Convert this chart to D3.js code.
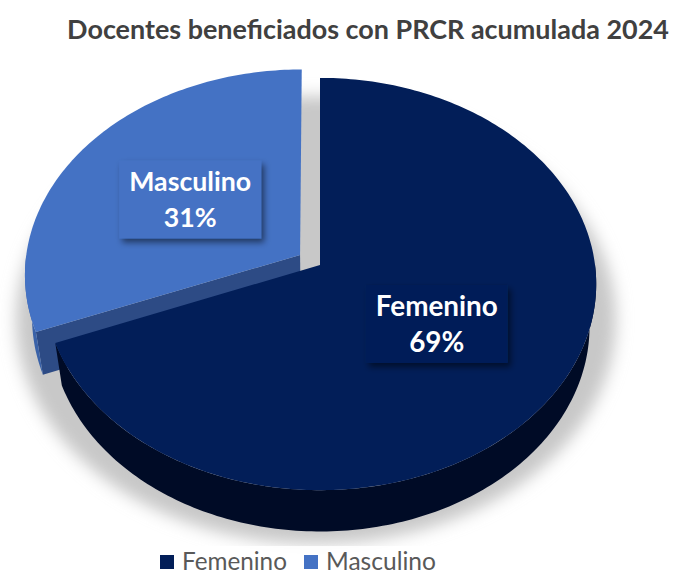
<!DOCTYPE html>
<html lang="es">
<head>
<meta charset="UTF-8">
<title>Docentes beneficiados con PRCR acumulada 2024</title>
<script src="https://d3js.org/d3.v7.min.js"></script>
<style>
  body { margin: 0; background: #fff; }
  text { font-family: Lato, "Open Sans", sans-serif; }
</style>
</head>
<body>
<svg id="chart" width="673" height="574"></svg>
<script>
  // data
  var title = "Docentes beneficiados con PRCR acumulada 2024";
  var categories = ["Femenino", "Masculino"];
  var values = [69, 31];
  var percentLabels = ["69%", "31%"];
  var explode = [0, 0.088];

  var svg = d3.select("#chart"),
    width = +svg.attr("width"),
    height = +svg.attr("height");

  var topColors = ["#021e58", "#4472c4"];
  var sideColors = ["#000b26", "#3a62a8"];
  var cutColors = ["#01143c", "#2d4b85"];

  // perspective camera looking down on the disc
  var cam = {cx: 320, cy: 265, f: 1993, dist: 1, tilt: 48 * Math.PI / 180},
    R = 0.138,
    H = 0.033;

  function project(u, v, h) {
    var yc = v * Math.sin(cam.tilt) + h * Math.cos(cam.tilt),
      zc = cam.dist + v * Math.cos(cam.tilt) - h * Math.sin(cam.tilt);
    return [cam.cx + cam.f * u / zc, cam.cy - cam.f * yc / zc];
  }

  function rim(a0, a1, h, off, r) {
    var n = Math.max(2, Math.ceil(Math.abs(a1 - a0) / (Math.PI / 180)) + 1),
      pts = [];
    for (var i = 0; i < n; i++) {
      var a = a0 + (a1 - a0) * i / (n - 1);
      pts.push(project(off[0] + r * Math.sin(a), off[1] + r * Math.cos(a), h));
    }
    return pts;
  }

  var line = d3.line().curve(d3.curveLinearClosed);

  var arcs = d3.pie().sort(null).value(function (d) { return d; })(values);
  arcs.forEach(function (d, i) {
    var mid = (d.startAngle + d.endAngle) / 2;
    d.name = categories[i];
    d.off = [explode[i] * R * Math.sin(mid), explode[i] * R * Math.cos(mid)];
    d.mid = mid;
  });

  // soft shadow under the pie
  var defs = svg.append("defs");
  defs.append("filter").attr("id", "blur").attr("x", "-20%").attr("y", "-20%")
    .attr("width", "140%").attr("height", "140%")
    .append("feGaussianBlur").attr("stdDeviation", 8);
  defs.append("filter").attr("id", "boxShadow").attr("x", "-20%").attr("y", "-20%")
    .attr("width", "150%").attr("height", "160%")
    .append("feDropShadow").attr("dx", 3).attr("dy", 4).attr("stdDeviation", 3)
    .attr("flood-color", "#000").attr("flood-opacity", 0.5);

  svg.append("ellipse")
    .attr("cx", 316).attr("cy", 320).attr("rx", 300).attr("ry", 224)
    .attr("fill", "#c8c8c8")
    .attr("filter", "url(#blur)");

  // back slice first
  var order = arcs.slice().sort(function (a, b) { return b.index - a.index; });
  var pie = svg.append("g");

  order.forEach(function (d) {
    var g = pie.append("g"),
      i = d.index,
      a0 = d.startAngle,
      a1 = d.endAngle;

    // cut face on the start side when it faces the viewer
    if (Math.sin(a0) < -1e-6) {
      var c0 = project(d.off[0], d.off[1], 0),
        c1 = project(d.off[0], d.off[1], -H),
        r0 = rim(a0, a0, 0, d.off, R)[0],
        r1 = rim(a0, a0, -H, d.off, R)[0];
      g.append("path").attr("d", line([c0, r0, r1, c1])).attr("fill", cutColors[i]);
    }

    // outer wall, front half only
    var s = Math.max(a0, Math.PI / 2),
      e = Math.min(a1, 3 * Math.PI / 2);
    if (s < e) {
      var wall = rim(s, e, 0, d.off, R).concat(rim(e, s, -H, d.off, R));
      g.append("path").attr("d", line(wall)).attr("fill", sideColors[i]);
    }

    // top face
    var top = [project(d.off[0], d.off[1], 0)].concat(rim(a0, a1, 0, d.off, R));
    g.append("path").attr("d", line(top)).attr("fill", topColors[i]);
  });

  function fitText(sel, target) {
    sel.style("font-size", "20px");
    var size = 20 * target / sel.node().getComputedTextLength();
    sel.style("font-size", size + "px");
    return size;
  }

  // data labels
  arcs.forEach(function (d) {
    var p = project(d.off[0] + 0.5 * R * Math.sin(d.mid), d.off[1] + 0.5 * R * Math.cos(d.mid), 0);
    var g = svg.append("g").attr("transform", "translate(" + p[0] + "," + p[1] + ")");
    g.append("rect")
      .attr("x", -71).attr("y", -39).attr("width", 142).attr("height", 78)
      .attr("fill", topColors[d.index])
      .attr("filter", "url(#boxShadow)");
    var t1 = g.append("text").attr("y", -8).attr("text-anchor", "middle")
      .attr("fill", "#fff").style("font-weight", 700).text(d.name);
    var size = fitText(t1, 122);
    g.append("text").attr("y", 28).attr("text-anchor", "middle")
      .attr("fill", "#fff").style("font-weight", 700).style("font-size", size + "px")
      .text(percentLabels[d.index]);
  });

  // title
  var t = svg.append("text")
    .attr("x", 368).attr("y", 39)
    .attr("text-anchor", "middle")
    .attr("fill", "#404040")
    .style("font-weight", 700)
    .text(title);
  fitText(t, 602);

  // legend
  var legend = svg.append("g");
  legend.append("rect").attr("x", 150).attr("y", 546).attr("width", 294).attr("height", 28)
    .attr("fill", "#fff").attr("opacity", 0.85);
  var legendX = [160, 304],
    legendW = [105, 110];
  categories.forEach(function (c, i) {
    legend.append("rect")
      .attr("x", legendX[i]).attr("y", 555).attr("width", 14).attr("height", 14)
      .attr("fill", topColors[i]);
    var lt = legend.append("text")
      .attr("x", legendX[i] + 22).attr("y", 570)
      .attr("fill", "#595959")
      .text(c);
    fitText(lt, legendW[i]);
  });
</script>
</body>
</html>
